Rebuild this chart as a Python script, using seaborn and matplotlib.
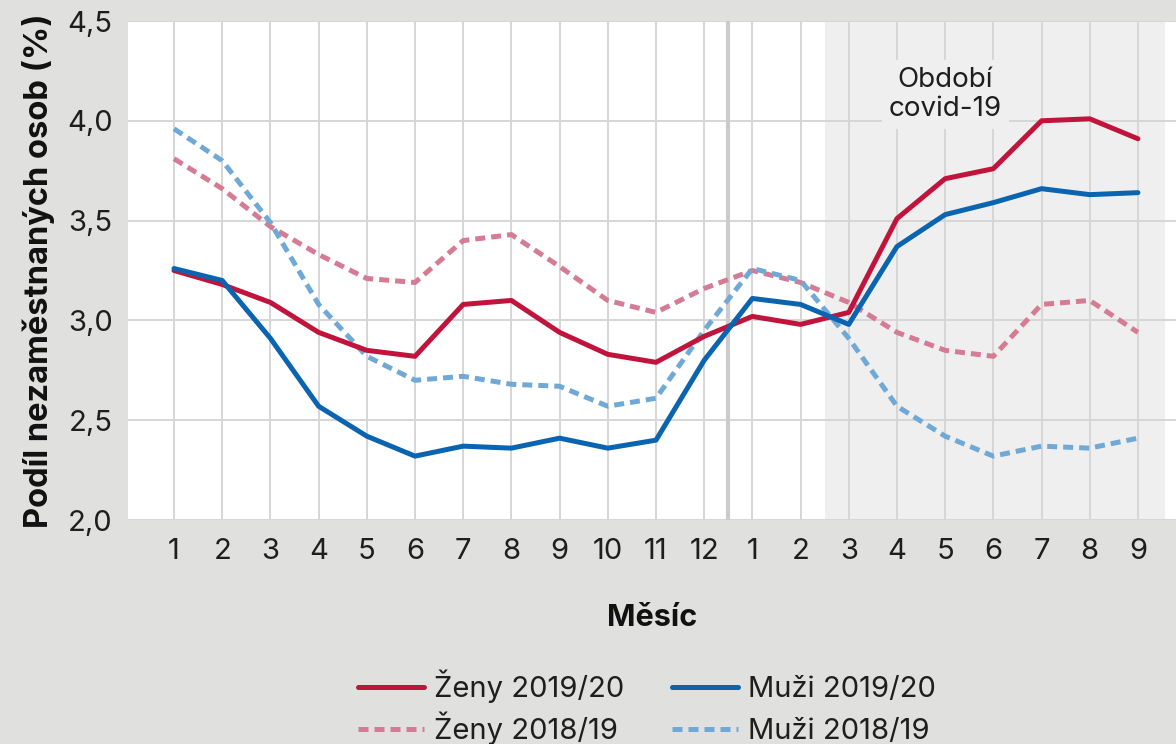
import matplotlib
matplotlib.use("Agg")
import matplotlib.pyplot as plt
import seaborn as sns
import pandas as pd
import numpy as np
from matplotlib.lines import Line2D

# ---- data ----
month_labels = ["1", "2", "3", "4", "5", "6", "7", "8", "9", "10", "11", "12",
                "1", "2", "3", "4", "5", "6", "7", "8", "9"]
zeny_2019_20 = [3.25, 3.18, 3.09, 2.94, 2.85, 2.82, 3.08, 3.10, 2.94, 2.83, 2.79, 2.92,
                3.02, 2.98, 3.04, 3.51, 3.71, 3.76, 4.00, 4.01, 3.91]
muzi_2019_20 = [3.26, 3.20, 2.91, 2.57, 2.42, 2.32, 2.37, 2.36, 2.41, 2.36, 2.40, 2.80,
                3.11, 3.08, 2.98, 3.37, 3.53, 3.59, 3.66, 3.63, 3.64]
zeny_2018_19 = [3.81, 3.66, 3.47, 3.33, 3.21, 3.19, 3.40, 3.43, 3.27, 3.10, 3.04, 3.16,
                3.25, 3.19, 3.09, 2.94, 2.85, 2.82, 3.08, 3.10, 2.94]
muzi_2018_19 = [3.96, 3.80, 3.49, 3.08, 2.82, 2.70, 2.72, 2.68, 2.67, 2.57, 2.61, 2.95,
                3.26, 3.20, 2.91, 2.57, 2.42, 2.32, 2.37, 2.36, 2.41]
y_ticks = [2.0, 2.5, 3.0, 3.5, 4.0, 4.5]
y_tick_labels = ["2,0", "2,5", "3,0", "3,5", "4,0", "4,5"]

series_names = ["Ženy 2019/20", "Muži 2019/20", "Ženy 2018/19", "Muži 2018/19"]
series_values = [zeny_2019_20, muzi_2019_20, zeny_2018_19, muzi_2018_19]

x_pos = np.arange(1, len(month_labels) + 1)
df = pd.DataFrame({
    "x": np.tile(x_pos, len(series_names)),
    "value": np.concatenate(series_values),
    "series": np.repeat(series_names, len(x_pos)),
})

# ---- style ----
sns.set_theme(style="white")
FONT = ["Inter", "DejaVu Sans"]
plt.rcParams["font.family"] = FONT

BG = "#e0e0de"
RED = "#c0143c"
BLUE = "#0a64b0"
PINK = "#d57b93"
LBLUE = "#70a9d5"
TXT = "#1e1e1e"

fig = plt.figure(figsize=(11.76, 7.44), dpi=100, facecolor=BG)
ax = fig.add_axes([128 / 1176, 1 - 520 / 744, 1 - 128 / 1176, (520 - 21) / 744])
ax.set_facecolor("white")

palette = {"Ženy 2019/20": RED, "Muži 2019/20": BLUE,
           "Ženy 2018/19": PINK, "Muži 2018/19": LBLUE}
dashes = {"Ženy 2019/20": "", "Muži 2019/20": "",
          "Ženy 2018/19": (2.0, 1.2), "Muži 2018/19": (2.0, 1.2)}

# draw order: dashed first, then solid on top
for name in ["Ženy 2018/19", "Muži 2018/19", "Ženy 2019/20", "Muži 2019/20"]:
    sub = df[df["series"] == name]
    sns.lineplot(data=sub, x="x", y="value", ax=ax, color=palette[name],
                 linewidth=3.6, legend=False, zorder=4)
    line = ax.lines[-1]
    if dashes[name] != "":
        line.set_dashes(dashes[name])
        line.set_dash_capstyle("butt")
    line.set_solid_joinstyle("round")

# covid shading
ax.axvspan(14.5, 21.56, color="#efefef", zorder=0.5, lw=0)
# year separator
ax.axvline(12.5, color="#cbcbcb", lw=3.0, zorder=1.5)

ax.set_xlim(0.045, 21.79)
ax.set_ylim(2.0, 4.5)
ax.set_xticks(x_pos)
ax.set_xticklabels(month_labels)
ax.set_yticks(y_ticks)
ax.set_yticklabels(y_tick_labels)
ax.grid(True, color="#d6d6d6", lw=1.4, zorder=1)
ax.set_axisbelow(True)
for s in ax.spines.values():
    s.set_visible(False)
ax.tick_params(axis="both", length=0, labelsize=21, colors=TXT)
ax.tick_params(axis="x", pad=13)
ax.tick_params(axis="y", pad=11)

ax.set_xlabel("Měsíc", fontsize=22, fontweight="bold", color="#111111", labelpad=28)
ax.set_ylabel("Podíl nezaměstnaných osob (%)", fontsize=23.5, fontweight="bold",
              color="#111111", labelpad=9)

ax.text(17, 4.13, "Období\ncovid-19", ha="center", va="center", fontsize=20,
        color=TXT, linespacing=1.15, zorder=3,
        bbox=dict(facecolor="#efefef", edgecolor="none", pad=5))

# legend: 2 x 2 grid, each entry anchored at its lower-left corner so rows line up
cells = {"Ženy 2019/20": (358, 703), "Muži 2019/20": (672, 703),
         "Ženy 2018/19": (358, 745), "Muži 2018/19": (672, 745)}
for n in series_names:
    xpix, ypix = cells[n]
    h = Line2D([], [], color=palette[n], lw=3.6,
               **({} if dashes[n] == "" else {"dashes": dashes[n]}))
    leg = fig.legend([h], [n], loc="lower left",
                     bbox_to_anchor=(xpix / 1176, 1 - ypix / 744),
                     frameon=False, fontsize=21, handlelength=2.25,
                     handletextpad=0.35, borderpad=0, borderaxespad=0)
    for t in leg.get_texts():
        t.set_color(TXT)

fig.savefig("out.png", dpi=100, facecolor=BG)
